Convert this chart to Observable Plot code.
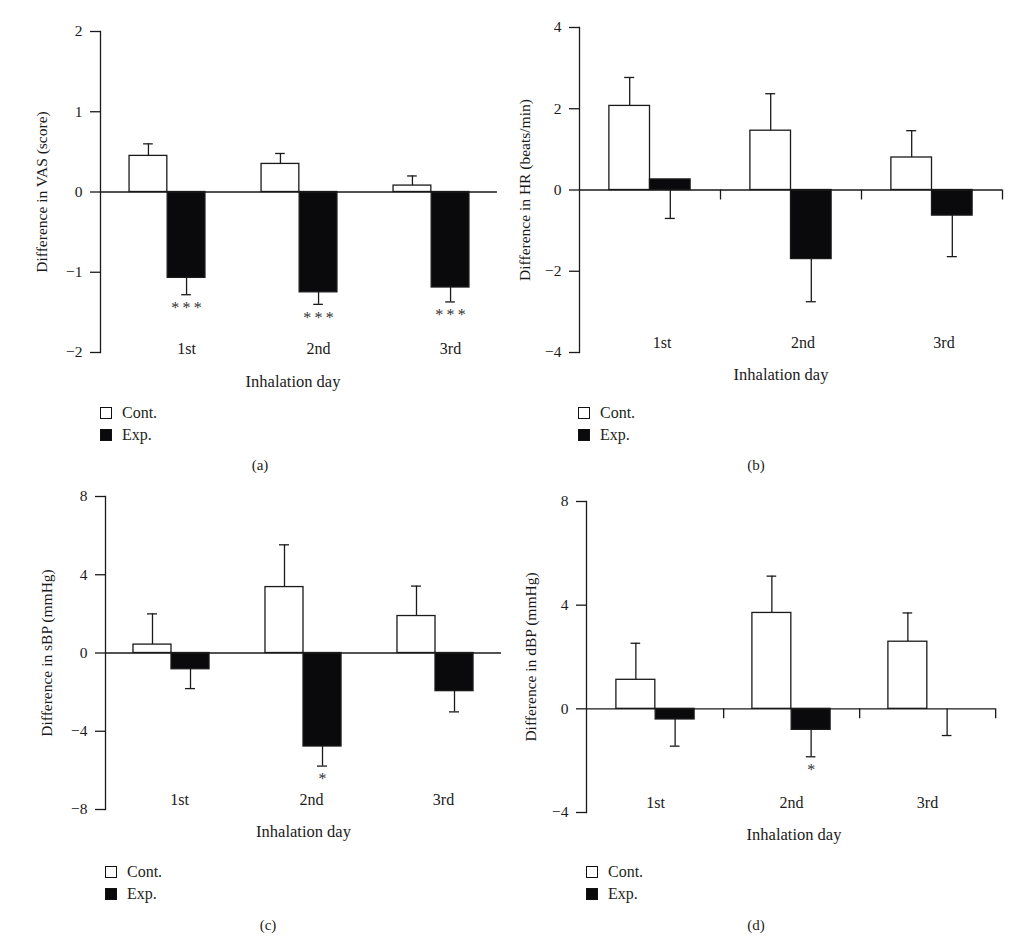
<!DOCTYPE html>
<html><head><meta charset="utf-8">
<script src="https://cdn.jsdelivr.net/npm/d3@7"></script>
<script src="https://cdn.jsdelivr.net/npm/@observablehq/plot@0.6"></script>
<style>
body{margin:0;background:#fff;font-family:"Liberation Serif",serif;color:#231f20}
#root{position:relative;width:1024px;height:950px;overflow:hidden;background:#fff}
.panel{position:absolute}
.leg{position:absolute;font-size:16px}
.row{position:absolute;display:flex;align-items:center;height:20px;white-space:nowrap}
.sw{width:12px;height:12px;border:1.3px solid #111;box-sizing:border-box;margin-right:10px}
.cap{position:absolute;font-size:15px;transform:translate(-50%,-50%)}
</style></head><body><div id="root"></div>
<script>
// ---- data ----
const days = ["1st", "2nd", "3rd"];
const groups = ["Cont.", "Exp."];

// (a) VAS (score)
const vasCont = [0.45, 0.35, 0.08];
const vasContSD = [0.15, 0.13, 0.12];
const vasExp = [-1.07, -1.25, -1.19];
const vasExpSD = [0.21, 0.15, 0.18];
const vasSig = ["***", "***", "***"];
const vasTicks = [-2, -1, 0, 1, 2];

// (b) HR (beats/min)
const hrCont = [2.07, 1.46, 0.80];
const hrContSD = [0.70, 0.91, 0.66];
const hrExp = [0.26, -1.70, -0.63];
const hrExpSD = [0.96, 1.05, 1.01];
const hrSig = ["", "", ""];
const hrTicks = [-4, -2, 0, 2, 4];

// (c) sBP (mmHg)
const sbpCont = [0.43, 3.37, 1.89];
const sbpContSD = [1.57, 2.16, 1.53];
const sbpExp = [-0.83, -4.78, -1.95];
const sbpExpSD = [0.99, 1.00, 1.06];
const sbpSig = ["", "*", ""];
const sbpTicks = [-8, -4, 0, 4, 8];

// (d) dBP (mmHg)
const dbpCont = [1.12, 3.70, 2.59];
const dbpContSD = [1.41, 1.42, 1.11];
const dbpExp = [-0.41, -0.81, 0];
const dbpExpSD = [1.03, 1.04, 1.03];
const dbpSig = ["", "*", ""];
const dbpTicks = [-4, 0, 4, 8];

const xTitle = "Inhalation day";

// ---- layout / style ----
const panels = [
  {cap: "(a)", yLabel: "Difference in VAS (score)", cont: vasCont, contSD: vasContSD, exp: vasExp, expSD: vasExpSD, sig: vasSig, ticks: vasTicks,
   left: 0, top: 0, width: 500, height: 400, mL: 100, mR: 3, mT: 31, mB: 48, sep: false, dayDx: 19, dayDy: -4, titleDx: -6, titleDy: 29, yLabDx: -58,
   legX: 100, legY: 413, capX: 260, capY: 465},
  {cap: "(b)", yLabel: "Difference in HR (beats/min)", cont: hrCont, contSD: hrContSD, exp: hrExp, expSD: hrExpSD, sig: hrSig, ticks: hrTicks,
   left: 500, top: 0, width: 524, height: 400, mL: 79, mR: 22, mT: 27, mB: 48, sep: true, dayDx: 12, dayDy: -10, titleDx: -10, titleDy: 22, yLabDx: -54,
   legX: 578, legY: 413, capX: 756, capY: 465},
  {cap: "(c)", yLabel: "Difference in sBP (mmHg)", cont: sbpCont, contSD: sbpContSD, exp: sbpExp, expSD: sbpExpSD, sig: sbpSig, ticks: sbpTicks,
   left: 0, top: 480, width: 502, height: 400, mL: 105, mR: 1, mT: 16, mB: 71, sep: false, dayDx: 8, dayDy: -10, titleDx: 0, titleDy: 22, yLabDx: -58,
   legX: 105, legY: 872, capX: 268, capY: 925},
  {cap: "(d)", yLabel: "Difference in dBP (mmHg)", cont: dbpCont, contSD: dbpContSD, exp: dbpExp, expSD: dbpExpSD, sig: dbpSig, ticks: dbpTicks,
   left: 500, top: 480, width: 524, height: 400, mL: 86, mR: 29, mT: 21, mB: 68, sep: true, dayDx: 0, dayDy: -10, titleDx: 3, titleDy: 22, yLabDx: -55,
   legX: 586, legY: 872, capX: 756, capY: 925}
];

const ink = "#1a1a1a";
const root = document.getElementById("root");
const fmt = d => d < 0 ? "\u2212" + Math.abs(d) : String(d);
const spaced = s => (s || "").split("").join("\u2009");

for (const p of panels) {
  const contRows = days.map((d, i) => ({day: d, group: groups[0], value: p.cont[i], end: p.cont[i] + p.contSD[i]}));
  const expRows = days.map((d, i) => ({day: d, group: groups[1], value: p.exp[i], end: p.exp[i] - p.expSD[i], sig: p.sig[i]}));
  const fw = p.width - p.mL - p.mR, fh = p.height - p.mT - p.mB;
  const band = fw / days.length;
  const bw = band * 0.288;
  const domain = d3.extent(p.ticks);
  const sepLen = 10 * (domain[1] - domain[0]) / fh;
  const capHalf = 5;

  const marks = [
    Plot.frame({anchor: "left", stroke: ink, strokeWidth: 1.3}),
    Plot.axisY({ticks: p.ticks, tickFormat: fmt, tickSize: 10, tickPadding: 8, label: null, fontSize: 15.5, stroke: ink, strokeWidth: 1.3, fill: ink}),
    // error lines
    Plot.ruleX(contRows, {x: "day", y1: "value", y2: "end", dx: -bw / 2, stroke: ink, strokeWidth: 1.3}),
    Plot.ruleX(expRows, {x: "day", y1: "value", y2: "end", dx: bw / 2, stroke: ink, strokeWidth: 1.3}),
    // caps
    Plot.tickY(contRows, {x: "day", y: "end", insetLeft: band / 2 - bw / 2 - capHalf, insetRight: band / 2 + bw / 2 - capHalf, stroke: ink, strokeWidth: 1.3}),
    Plot.tickY(expRows, {x: "day", y: "end", insetLeft: band / 2 + bw / 2 - capHalf, insetRight: band / 2 - bw / 2 - capHalf, stroke: ink, strokeWidth: 1.3}),
    // bars
    Plot.barY(contRows, {x: "day", y1: 0, y2: "value", insetLeft: band / 2 - bw, insetRight: band / 2, fill: "#fff", stroke: ink, strokeWidth: 1.3}),
    Plot.barY(expRows, {x: "day", y1: 0, y2: "value", insetLeft: band / 2, insetRight: band / 2 - bw, fill: "#0a0a0c", stroke: ink, strokeWidth: 1.3}),
    Plot.ruleY([0], {stroke: ink, strokeWidth: 1.3}),
    // significance
    Plot.text(expRows, {x: "day", y: "end", text: d => spaced(d.sig), dx: bw / 2, dy: 7, lineAnchor: "top", fontSize: 16, fill: "#333"}),
    // day labels
    Plot.text(days, {x: d => d, text: d => d, frameAnchor: "bottom", dx: p.dayDx, dy: p.dayDy, lineAnchor: "middle", fontSize: 16, fill: ink}),
    // x title
    Plot.text([xTitle], {text: d => d, frameAnchor: "bottom", dx: p.titleDx, dy: p.titleDy, lineAnchor: "middle", fontSize: 16.5, fill: ink}),
    // y title
    Plot.text([p.yLabel], {text: d => d, frameAnchor: "left", dx: p.yLabDx, rotate: -90, lineAnchor: "middle", textAnchor: "middle", fontSize: 15.5, fill: ink})
  ];
  if (p.sep) marks.push(Plot.ruleX(days, {x: d => d, y1: 0, y2: -sepLen, dx: band / 2, stroke: ink, strokeWidth: 1.3}));

  const svg = Plot.plot({
    width: p.width, height: p.height,
    marginLeft: p.mL, marginRight: p.mR, marginTop: p.mT, marginBottom: p.mB,
    style: {fontFamily: "Liberation Serif, serif", fontSize: "15px", color: ink, background: "transparent", overflow: "visible"},
    x: {type: "band", domain: days, padding: 0, axis: null},
    y: {domain, axis: null, label: null},
    marks
  });
  const wrap = document.createElement("div");
  wrap.className = "panel";
  wrap.style.left = p.left + "px";
  wrap.style.top = p.top + "px";
  wrap.appendChild(svg);
  root.appendChild(wrap);

  // legend
  groups.forEach((g, i) => {
    const row = document.createElement("div");
    row.className = "row leg";
    row.style.left = p.legX + "px";
    row.style.top = (p.legY - 10 + i * 22) + "px";
    const sw = document.createElement("span");
    sw.className = "sw";
    sw.style.background = i === 0 ? "#fff" : "#0a0a0c";
    row.appendChild(sw);
    row.appendChild(document.createTextNode(g));
    root.appendChild(row);
  });
  const cap = document.createElement("div");
  cap.className = "cap";
  cap.style.left = p.capX + "px";
  cap.style.top = p.capY + "px";
  cap.textContent = p.cap;
  root.appendChild(cap);
}
</script>
</body></html>
